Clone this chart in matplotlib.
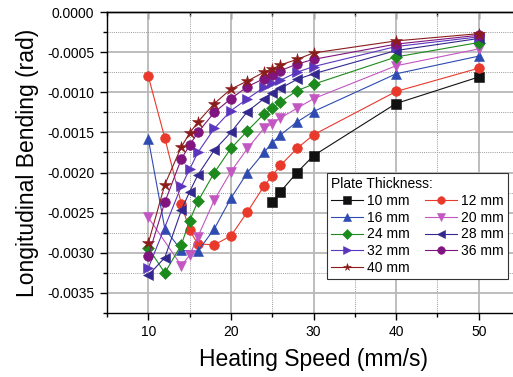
import numpy as np
import matplotlib
matplotlib.use('Agg')
import matplotlib.pyplot as plt
from matplotlib.ticker import MultipleLocator, FormatStrFormatter, NullFormatter

plt.rcParams['font.family'] = ['Liberation Sans', 'DejaVu Sans']

# heating speed (mm/s) and longitudinal bending (rad) per plate thickness
x_10 = [25, 26, 28, 30, 40, 50]
y_10 = [-0.00237, -0.00224, -0.00200, -0.00179, -0.00114, -0.00081]

x_12 = [10, 12, 14, 15, 16, 18, 20, 22, 24, 25, 26, 28, 30, 40, 50]
y_12 = [-0.00080, -0.00157, -0.00239, -0.00272, -0.00289, -0.00290, -0.00279, -0.00249,
        -0.00217, -0.00204, -0.00191, -0.00170, -0.00153, -0.00099, -0.00070]

x_16 = [10, 12, 14, 16, 18, 20, 22, 24, 25, 26, 28, 30, 40, 50]
y_16 = [-0.00158, -0.00270, -0.00297, -0.00298, -0.00270, -0.00232, -0.00200, -0.00175,
        -0.00163, -0.00153, -0.00137, -0.00124, -0.00077, -0.00055]

x_20 = [10, 14, 15, 16, 18, 20, 22, 24, 25, 26, 28, 30, 40, 50]
y_20 = [-0.00256, -0.00316, -0.00303, -0.00280, -0.00234, -0.00199, -0.00170, -0.00145,
        -0.00139, -0.00132, -0.00120, -0.00108, -0.00067, -0.00046]

x_24 = [10, 12, 14, 15, 16, 18, 20, 22, 24, 25, 26, 28, 30, 40, 50]
y_24 = [-0.00294, -0.00325, -0.00290, -0.00260, -0.00236, -0.00200, -0.00170, -0.00148,
        -0.00127, -0.00120, -0.00112, -0.00098, -0.00090, -0.00056, -0.00038]

x_28 = [10, 12, 14, 15, 16, 18, 20, 22, 24, 25, 26, 28, 30, 40, 50]
y_28 = [-0.00328, -0.00306, -0.00247, -0.00224, -0.00203, -0.00172, -0.00150, -0.00124,
        -0.00108, -0.00101, -0.00095, -0.00084, -0.00077, -0.00048, -0.00033]

x_32 = [10, 14, 15, 16, 18, 20, 22, 24, 25, 26, 28, 30, 40, 50]
y_32 = [-0.00319, -0.00217, -0.00196, -0.00175, -0.00145, -0.00123, -0.00108, -0.00094,
        -0.00089, -0.00085, -0.00075, -0.00068, -0.00043, -0.00031]

x_36 = [10, 12, 14, 15, 16, 18, 20, 22, 24, 25, 26, 28, 30, 40, 50]
y_36 = [-0.00304, -0.00237, -0.00183, -0.00166, -0.00150, -0.00125, -0.00108, -0.00093,
        -0.00083, -0.00078, -0.00073, -0.00065, -0.00059, -0.00040, -0.00029]

x_40 = [10, 12, 14, 15, 16, 18, 20, 22, 24, 25, 26, 28, 30, 40, 50]
y_40 = [-0.00288, -0.00215, -0.00168, -0.00151, -0.00137, -0.00114, -0.00096, -0.00086,
        -0.00075, -0.00071, -0.00066, -0.00059, -0.00051, -0.00036, -0.00027]

series = [
    ('10 mm', x_10, y_10, '#111111', 's', 6.5),
    ('12 mm', x_12, y_12, '#e8392b', 'o', 7),
    ('16 mm', x_16, y_16, '#2d4bb0', '^', 7.5),
    ('20 mm', x_20, y_20, '#c257c2', 'v', 7.5),
    ('24 mm', x_24, y_24, '#1c8a1c', 'D', 6),
    ('28 mm', x_28, y_28, '#33288e', '<', 7.5),
    ('32 mm', x_32, y_32, '#5b35bd', '>', 7.5),
    ('36 mm', x_36, y_36, '#80157f', 'o', 7),
    ('40 mm', x_40, y_40, '#8b1c1c', '*', 9),
]

fig = plt.figure(figsize=(5.13, 3.77), dpi=100)
ax = fig.add_axes([107/513, 1-313/377, 413/513, 301/377])

lines = {}
for name, xs, ys, c, m, ms in series:
    ln, = ax.plot(xs, ys, color=c, marker=m, markersize=ms, lw=0.8,
                  markeredgewidth=0.4, zorder=3)
    lines[name] = ln

ax.set_xlim(5, 55)
ax.set_ylim(-0.00375, 0.0)
ax.xaxis.set_major_locator(MultipleLocator(10))
ax.xaxis.set_minor_locator(MultipleLocator(5))
ax.yaxis.set_major_locator(MultipleLocator(0.0005))
ax.yaxis.set_minor_locator(MultipleLocator(0.00025))
ax.yaxis.set_major_formatter(FormatStrFormatter('%.4f'))

ax.grid(which='major', color='#b8b8b8', lw=1.3, ls='-', zorder=0)
ax.grid(which='minor', color='#9a9a9a', lw=0.7, ls=(0, (1, 1.2)), zorder=0)
ax.set_axisbelow(True)

ax.tick_params(which='both', direction='out', labelsize=10, width=1, pad=4)
ax.tick_params(which='major', length=5)
ax.tick_params(which='minor', length=3)
ax.spines['right'].set_visible(False)
for s in ['left', 'bottom', 'top']:
    ax.spines[s].set_linewidth(1.0)

# top axis: inward ticks, no labels
top = ax.secondary_xaxis('top')
top.xaxis.set_major_locator(MultipleLocator(10))
top.xaxis.set_minor_locator(MultipleLocator(5))
top.xaxis.set_major_formatter(NullFormatter())
top.tick_params(which='both', direction='in', width=1)
top.tick_params(which='major', length=5)
top.tick_params(which='minor', length=3)
top.spines['top'].set_linewidth(1.0)

ax.set_xlabel('Heating Speed (mm/s)', fontsize=16.5, labelpad=6)
ax.set_ylabel('Longitudinal Bending (rad)', fontsize=16.5, labelpad=6)

order = ['10 mm', '16 mm', '24 mm', '32 mm', '40 mm', '12 mm', '20 mm', '28 mm', '36 mm']
leg = ax.legend([lines[k] for k in order], order, ncol=2, title='Plate Thickness:',
                alignment='left', fontsize=10, title_fontsize=10,
                loc='upper left', bbox_to_anchor=(327/513, 1-173/377),
                bbox_transform=fig.transFigure, frameon=True, fancybox=False,
                edgecolor='#333333', framealpha=1, borderpad=0.3,
                handlelength=2.3, handletextpad=0.3, columnspacing=1.1,
                labelspacing=0.2, borderaxespad=0)
leg.get_frame().set_linewidth(0.8)
for h in leg.legend_handles:
    h.set_markersize(5.5)

fig.savefig('out.png', dpi=100)
